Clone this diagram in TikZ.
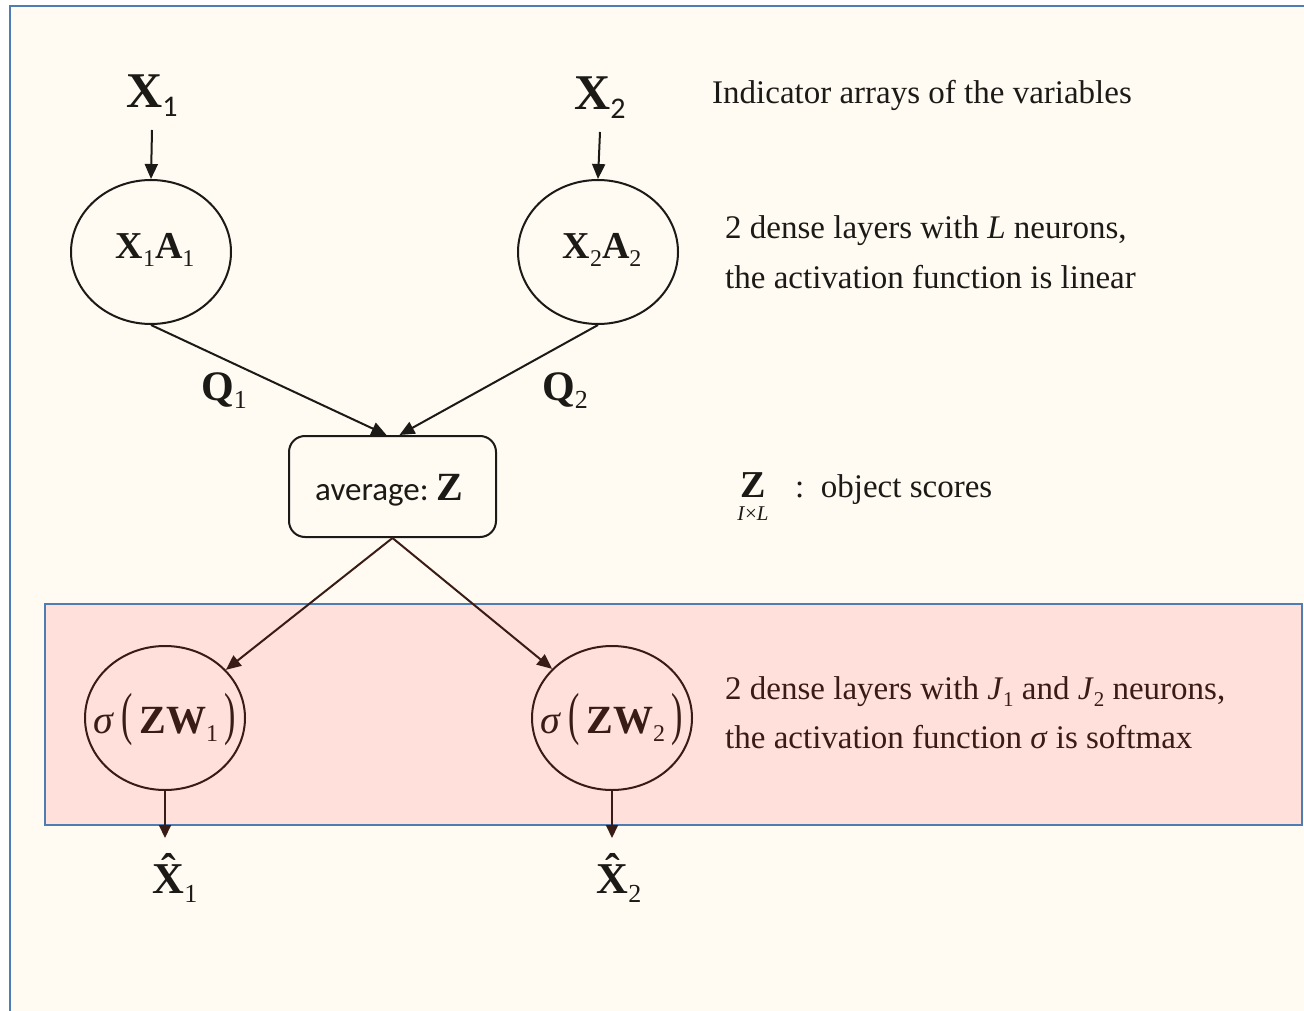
\documentclass[tikz,border=0pt]{standalone}
\usepackage{fontspec}
\usepackage{graphicx}
\setmainfont{Liberation Serif}[BoldFont={Liberation Serif Bold},ItalicFont={Liberation Serif Italic}]
\newfontfamily\carl{Carlito}
\usetikzlibrary{arrows.meta,shapes.geometric}
\definecolor{cream}{HTML}{FFFBF3}
\definecolor{pinkfill}{HTML}{FFE0DA}
\definecolor{frameblue}{HTML}{4F7DB3}
\definecolor{ink}{HTML}{1C1A16}
\definecolor{brown}{HTML}{3A1C16}
\newcommand\fs[1]{\fontsize{#1}{#1}\selectfont}
\newcommand\sbs[3]{\raisebox{-#1pt}{\fs{#2}#3}}
\newcommand\hatX{{\bfseries\accent"02C6 X}}
\newcommand\tallp[1]{\scalebox{0.85}[1.45]{#1}}
\tikzset{
  circ/.style={draw, ellipse, line width=2pt, minimum width=160pt, minimum height=144pt, inner sep=0pt},
  arr/.style={line width=2pt, -{Triangle[length=15pt,width=13pt]}},
  desc/.style={anchor=base west, inner sep=0pt, font=\fs{33}},
  lbl/.style={anchor=base, inner sep=0pt},
}
\begin{document}
\begin{tikzpicture}[x=1pt,y=-1pt]
\useasboundingbox (0,0) rectangle (1304,1011);
\begin{scope}
\clip (0,0) rectangle (1304,1011);
\draw[fill=cream, draw=frameblue, line width=2.5pt] (10,6) rectangle (1330,1040);
\end{scope}
\draw[fill=pinkfill, draw=frameblue, line width=2pt] (45,604) rectangle (1302,825);

% top inputs
\node[lbl, text=ink] (x1) at (152,108) {\fs{50}\textbf{X}\sbs{9}{30}{\carl 1}};
\node[lbl, text=ink] (x2) at (600,110) {\fs{50}\textbf{X}\sbs{9}{30}{\carl 2}};
\coordinate (s1) at (152,130);
\coordinate (s2) at (600,132);

\node[circ, draw=ink] (c1) at (151,252) {};
\node[circ, draw=ink] (c2) at (598,252) {};
\node[text=ink, inner sep=0pt] (c1t) at (155,250) {\fs{38}\textbf{X}\sbs{8}{24}{1}\textbf{A}\sbs{8}{24}{1}};
\node[text=ink, inner sep=0pt] (c2t) at (602,250) {\fs{38}\textbf{X}\sbs{8}{24}{2}\textbf{A}\sbs{8}{24}{2}};

\draw[arr, draw=ink, fill=ink] (s1) -- (c1.north);
\draw[arr, draw=ink, fill=ink] (s2) -- (c2.north);

% average box
\node[draw=ink, line width=2pt, rounded corners=16pt, minimum width=207pt, minimum height=101pt] (avg) at (392.5,486.5) {};
\node[lbl, text=ink] (avgt) at (389,500) {{\carl\fs{33}average:\ }{\fs{40}\textbf{Z}}};
\coordinate (t1) at ([xshift=-6pt]avg.north);
\coordinate (t2) at ([xshift=7pt]avg.north);
\draw[arr, draw=ink, fill=ink] (c1.south) -- (t1);
\draw[arr, draw=ink, fill=ink] (c2.south) -- (t2);

\node[lbl, text=ink] (q1) at (224,400) {\fs{42}\textbf{Q}\sbs{8}{26}{1}};
\node[lbl, text=ink] (q2) at (565,400) {\fs{42}\textbf{Q}\sbs{8}{26}{2}};

% lower nodes
\node[circ, draw=brown] (c3) at (165,718) {};
\node[circ, draw=brown] (c4) at (612,718) {};
\node[lbl, text=brown] (c3t) at (165,733) {\fs{40}\textit{σ}\,\tallp{(}\,\textbf{ZW}\sbs{8}{24}{1}\,\tallp{)}};
\node[lbl, text=brown] (c4t) at (612,733) {\fs{40}\textit{σ}\,\tallp{(}\,\textbf{ZW}\sbs{8}{24}{2}\,\tallp{)}};

\draw[arr, draw=brown, fill=brown] (avg.south) -- (c3);
\draw[arr, draw=brown, fill=brown] (avg.south) -- (c4);

\coordinate (e1) at (165,838);
\coordinate (e2) at (612,838);
\draw[line width=2pt, draw=brown, -{Triangle[length=13pt,width=12pt]}] (c3.south) -- (e1);
\draw[line width=2pt, draw=brown, -{Triangle[length=13pt,width=12pt]}] (c4.south) -- (e2);

\node[lbl, text=ink] (h1) at (175,893) {\fs{44}\hatX\sbs{9}{26}{1}};
\node[lbl, text=ink] (h2) at (619,893) {\fs{44}\hatX\sbs{9}{26}{2}};

% descriptions
\node[desc, text=ink] (d1) at (712,104) {Indicator arrays of the variables};
\node[desc, text=ink] (d2) at (725,239) {2 dense layers with \textit{L} neurons,};
\node[desc, text=ink] (d3) at (725,288) {the activation function is linear};
\node[lbl, text=ink] (zl) at (753,497) {\fs{38}\textbf{Z}};
\node[lbl, text=ink] (zs) at (753,520) {\fs{21}\textit{I}×\textit{L}};
\node[desc, text=ink] (d4) at (795,497) {:\ \ object scores};
\node[desc, text=brown] (d5) at (725,699) {2 dense layers with \textit{J}\sbs{7}{21}{1}\ and \textit{J}\sbs{7}{21}{2}\ neurons,};
\node[desc, text=brown] (d6) at (725,748) {the activation function \textit{σ} is softmax};
\end{tikzpicture}
\end{document}
